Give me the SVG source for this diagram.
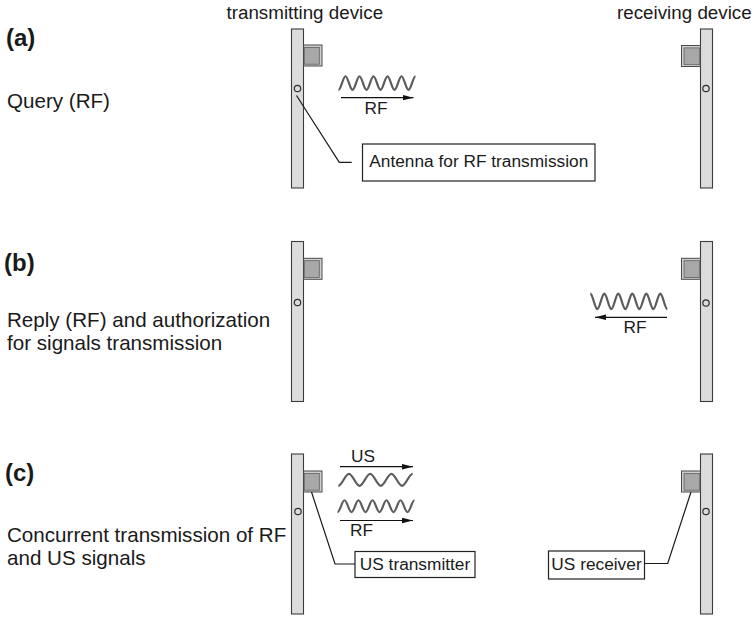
<svg xmlns="http://www.w3.org/2000/svg" xmlns:xlink="http://www.w3.org/1999/xlink" width="754" height="618" viewBox="0 0 754 618">
  <style>
    text { font-family: "Liberation Sans", Arial, Helvetica, sans-serif; fill: #1a1a1a; }
    .tag { font-size: 24px; font-weight: bold; }
    .caption { font-size: 20.6px; }
    .head { font-size: 18.8px; }
    .lbl { font-size: 17.3px; }
    .mid { text-anchor: middle; }
    .bar { fill: #dcdcdc; stroke: #3c3c3c; stroke-width: 1.1; }
    .case { fill: #cfcfcf; stroke: #4a4a4a; stroke-width: 1; }
    .core { fill: #a8a8a8; stroke: #5e5e5e; stroke-width: 0.8; }
    .ant { fill: #dcdcdc; stroke: #2e2e2e; stroke-width: 1.2; }
    .box { fill: #ffffff; stroke: #222; stroke-width: 1.2; }
    .lead { fill: none; stroke: #1a1a1a; stroke-width: 1.2; }
    .arrow { fill: none; stroke: #111; stroke-width: 1.2; marker-end: url(#head); }
    .wave { fill: none; stroke: #5c5c5c; stroke-width: 2.2; }
  </style>
  <defs>
    <marker id="head" markerUnits="userSpaceOnUse" markerWidth="12" markerHeight="6" refX="11" refY="2.75" orient="auto">
      <path d="M0,0 L11,2.75 L0,5.5 Z" fill="#111"/>
    </marker>
    <!-- radio wave: 5.5 periods, trough at left, crest at right -->
    <path id="rfWave" d="M0,13.5 C2.55,13.5 4.45,0 7,0 S11.45,13.5 14,13.5 S18.45,0 21,0 S25.45,13.5 28,13.5 S32.45,0 35,0 S39.45,13.5 42,13.5 S46.45,0 49,0 S53.45,13.5 56,13.5 S60.45,0 63,0 S67.45,13.5 70,13.5 S74.45,0 77,0"/>
    <!-- ultrasound wave: 3.5 periods -->
    <path id="usWave" d="M0,12 C3.87,12 6.76,0 10.63,0 S17.39,12 21.26,12 S28.02,0 31.89,0 S38.64,12 42.51,12 S49.27,0 53.14,0 S59.9,12 63.77,12 S70.53,0 74.4,0"/>
  </defs>

  <!-- column headings -->
  <text class="head" x="226.5" y="18.5">transmitting device</text>
  <text class="head" x="617" y="18.5">receiving device</text>

  <!-- step captions -->
  <text class="tag" x="6" y="46">(a)</text>
  <text class="caption" x="7" y="108">Query (RF)</text>
  <text class="tag" x="4" y="271">(b)</text>
  <text class="caption" x="7" y="327">Reply (RF) and authorization</text>
  <text class="caption" x="7" y="350">for signals transmission</text>
  <text class="tag" x="5" y="481">(c)</text>
  <text class="caption" x="7" y="542">Concurrent transmission of RF</text>
  <text class="caption" x="7" y="565">and US signals</text>

  <!-- transmitting devices -->
  <g id="tx-a">
    <rect class="bar" x="291.5" y="29" width="12" height="159"/>
    <rect class="case" x="303.5" y="45" width="18.5" height="21"/>
    <rect class="core" x="304.3" y="47.4" width="15" height="16.8"/>
    <circle class="ant" cx="297.5" cy="88.5" r="3.2"/>
  </g>
  <g id="tx-b">
    <rect class="bar" x="291.5" y="241.5" width="12" height="160"/>
    <rect class="case" x="303.5" y="258.3" width="18.5" height="21"/>
    <rect class="core" x="304.3" y="260.7" width="15" height="16.8"/>
    <circle class="ant" cx="297.5" cy="302.5" r="3.2"/>
  </g>
  <g id="tx-c">
    <rect class="bar" x="291.5" y="454" width="12" height="160"/>
    <rect class="case" x="303.5" y="471" width="18.5" height="21"/>
    <rect class="core" x="304.3" y="473.4" width="15" height="16.8"/>
    <circle class="ant" cx="298" cy="511.5" r="3.2"/>
  </g>

  <!-- receiving devices -->
  <g id="rx-a">
    <rect class="bar" x="700.5" y="29" width="12" height="159"/>
    <rect class="case" x="681.5" y="45.5" width="19" height="21"/>
    <rect class="core" x="684" y="47.9" width="15.7" height="16.8"/>
    <circle class="ant" cx="706" cy="88.5" r="3.2"/>
  </g>
  <g id="rx-b">
    <rect class="bar" x="700.5" y="241.5" width="12" height="160"/>
    <rect class="case" x="681.5" y="258.3" width="19" height="21"/>
    <rect class="core" x="684" y="260.7" width="15.7" height="16.8"/>
    <circle class="ant" cx="706" cy="303" r="3.2"/>
  </g>
  <g id="rx-c">
    <rect class="bar" x="700.5" y="454" width="12" height="160"/>
    <rect class="case" x="681.5" y="471" width="19" height="21"/>
    <rect class="core" x="684" y="473.4" width="15.7" height="16.8"/>
    <circle class="ant" cx="706" cy="511.5" r="3.2"/>
  </g>

  <!-- callout boxes -->
  <g id="antenna-label">
    <rect class="box" x="362.5" y="144" width="232.5" height="37"/>
    <text class="lbl mid" x="478.8" y="167">Antenna for RF transmission</text>
  </g>
  <g id="us-transmitter-label">
    <rect class="box" x="355" y="551.5" width="120" height="26"/>
    <text class="lbl mid" x="415" y="570">US transmitter</text>
  </g>
  <g id="us-receiver-label">
    <rect class="box" x="548.5" y="551" width="96" height="28"/>
    <text class="lbl mid" x="596.5" y="570">US receiver</text>
  </g>

  <!-- signal waves -->
  <g id="waves">
    <use href="#rfWave" xlink:href="#rfWave" class="wave" transform="translate(338.5,76.3)"/>
    <use href="#rfWave" xlink:href="#rfWave" class="wave" transform="translate(667.3,293.7) scale(-1,1.13)"/>
    <use href="#usWave" xlink:href="#usWave" class="wave" transform="translate(338.3,473.8)"/>
    <use href="#rfWave" xlink:href="#rfWave" class="wave" transform="translate(337.5,500.3) scale(1,0.88)"/>
  </g>

  <!-- connectors: direction arrows and callout leaders -->
  <g id="connectors">
    <line class="arrow" x1="341" y1="97.7" x2="413.5" y2="97.7"/>
    <line class="arrow" x1="667" y1="317.3" x2="595" y2="317.3"/>
    <line class="arrow" x1="340" y1="466.7" x2="413" y2="466.7"/>
    <line class="arrow" x1="340" y1="520.5" x2="413" y2="520.5"/>
    <polyline class="lead" points="296.5,95.5 339.3,162.3 351.7,162.3"/>
    <polyline class="lead" points="311.5,492 335,564 355,564"/>
    <polyline class="lead" points="691,492 667.7,563.5 644.5,563.5"/>
  </g>

  <!-- arrow labels -->
  <text class="lbl mid" x="376" y="114">RF</text>
  <text class="lbl mid" x="635" y="333">RF</text>
  <text class="lbl mid" x="363" y="461.5">US</text>
  <text class="lbl mid" x="361.5" y="536">RF</text>
</svg>
